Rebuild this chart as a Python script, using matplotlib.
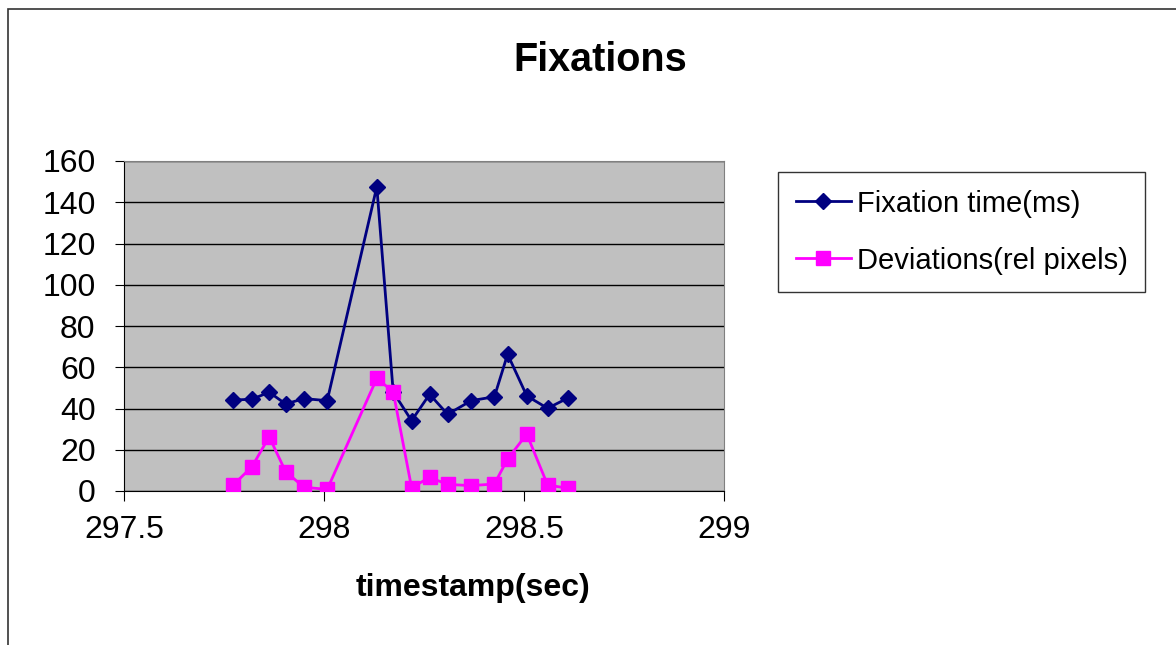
import matplotlib
matplotlib.use("Agg")
import matplotlib.pyplot as plt
from matplotlib.ticker import FuncFormatter, MultipleLocator
from matplotlib.patches import Rectangle

plt.rcParams['font.family'] = ['Liberation Sans', 'DejaVu Sans']

# timestamps (sec)
timestamp = [297.773, 297.820, 297.863, 297.904, 297.950, 298.008, 298.132,
             298.173, 298.219, 298.264, 298.309, 298.368, 298.426, 298.459,
             298.507, 298.559, 298.611]
fixation_time = [44.1, 44.5, 47.9, 42.2, 44.8, 43.8, 147.5, 48.0, 34.1,
                 46.9, 37.2, 43.8, 45.7, 66.3, 46.1, 40.1, 45.2]
deviations = [2.9, 11.8, 26.3, 9.4, 1.8, 0.8, 54.6, 48.1, 1.6, 6.6, 3.2,
              2.6, 3.4, 15.5, 27.6, 2.9, 1.3]

W, H = 1176, 645
fig = plt.figure(figsize=(W / 100, H / 100), dpi=100)

# outer chart border (only top/left visible in the picture)
fig.patches.append(Rectangle((8 / W, -0.1), 1.2, 1 - 9 / H + 0.1,
                             transform=fig.transFigure, fill=False,
                             edgecolor='#333333', lw=1.2))

ax = fig.add_axes([124 / W, 1 - 491 / H, 600 / W, 330 / H])
ax.set_facecolor('#C0C0C0')

ax.plot(timestamp, fixation_time, color='#000080', lw=2, marker='D',
        ms=8, label='Fixation time(ms)', zorder=3)
ax.plot(timestamp, deviations, color='#FF00FF', lw=2, marker='s',
        ms=10, label='Deviations(rel pixels)', zorder=3)

ax.set_xlim(297.5, 299)
ax.set_ylim(0, 160)
ax.xaxis.set_major_locator(MultipleLocator(0.5))
ax.yaxis.set_major_locator(MultipleLocator(20))
ax.xaxis.set_major_formatter(FuncFormatter(lambda v, p: '%g' % v))
ax.grid(axis='y', color='black', lw=1)
ax.set_axisbelow(True)

for s in ['top', 'right']:
    ax.spines[s].set_color('#808080')
for s in ['left', 'bottom']:
    ax.spines[s].set_color('black')

ax.tick_params(axis='y', labelsize=23, length=6.5, pad=14, direction='out')
ax.tick_params(axis='x', labelsize=23, length=7, pad=10, direction='out')

fig.text(600 / W, 1 - 60 / H, 'Fixations', fontsize=28.5, fontweight='bold',
         ha='center', va='center')
fig.text(473 / W, 1 - 588 / H, 'timestamp(sec)', fontsize=23,
         fontweight='bold', ha='center', va='center')

leg = fig.legend(loc='upper left', bbox_to_anchor=(778 / W, 1 - 172 / H),
                 fontsize=21, frameon=True, fancybox=False, borderaxespad=0,
                 handlelength=1.9, handletextpad=0.2, labelspacing=1.0,
                 borderpad=0.6)
leg.get_frame().set_edgecolor('black')
leg.get_frame().set_linewidth(1)

fig.savefig('out.png', dpi=100)
